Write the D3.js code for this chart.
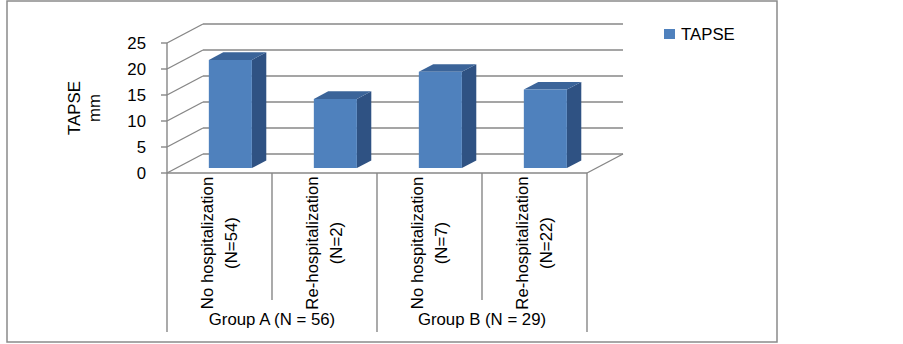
<!DOCTYPE html>
<html>
<head>
<meta charset="utf-8">
<script src="https://cdn.jsdelivr.net/npm/d3@7"></script>
<style>
    body { margin: 0; background: #fff; }
    #chart-area { width: 903px; height: 344px; }
    text { font-family: "Liberation Sans", Arial, sans-serif; fill: #000; }
</style>
</head>
<body>
<div id="chart-area"></div>
<script>
// chart data
let categories = [
    ["No hospitalization", "(N=54)"],
    ["Re-hospitalization", "(N=2)"],
    ["No hospitalization", "(N=7)"],
    ["Re-hospitalization", "(N=22)"]
];
let groups = ["Group A (N = 56)", "Group B (N = 29)"];
let groupOf = [0, 0, 1, 1];
let tapse = [20.8, 13.3, 18.5, 15.1];
let yTicks = [0, 5, 10, 15, 20, 25];
let seriesName = "TAPSE";

class Bar3DVis {
    constructor(parentElement) {
        this.parentElement = parentElement;
        this.initVis();
    }

    initVis() {
        let vis = this;

        vis.width = 903;
        vis.height = 344;
        vis.fontSize = 16.8;
        vis.gridColor = "#878787";

        vis.svg = d3.select("#" + vis.parentElement).append("svg")
            .attr("width", vis.width)
            .attr("height", vis.height);

        // chart area border
        vis.svg.append("rect")
            .attr("x", 7).attr("y", 1)
            .attr("width", 770).attr("height", 341)
            .attr("fill", "none")
            .attr("stroke", "#8a8a8a")
            .attr("stroke-width", 1.5);

        // front plane of the 3d box
        vis.x = d3.scaleBand()
            .domain(d3.range(categories.length))
            .range([167, 587])
            .padding(0);

        vis.y = d3.scaleLinear()
            .domain([0, 25])
            .range([173, 43]);

        // depth offset of the back wall
        vis.depth = {dx: 36, dy: -19};
        vis.P = (xf, v, d) => [xf + d * vis.depth.dx, vis.y(v) + d * vis.depth.dy];

        vis.updateVis();
    }

    updateVis() {
        let vis = this;
        let line = d3.line();
        let x0 = vis.x.range()[0], x1 = vis.x.range()[1];

        let walls = vis.svg.append("g")
            .attr("fill", "none")
            .attr("stroke", vis.gridColor)
            .attr("stroke-width", 1.4);

        // back wall gridlines + side wall diagonals
        yTicks.forEach(t => {
            walls.append("path").attr("d", line([vis.P(x0, t, 1), vis.P(x1, t, 1)]));
            walls.append("path").attr("d", line([vis.P(x0, t, 0), vis.P(x0, t, 1)]));
        });

        // floor front edge and right diagonal
        walls.append("path").attr("d", line([vis.P(x0, 0, 0), vis.P(x1, 0, 0)]));
        walls.append("path").attr("d", line([vis.P(x1, 0, 0), vis.P(x1, 0, 1)]));

        // y axis line and ticks
        walls.append("path").attr("d", line([[x0, vis.y(25)], [x0, vis.y(0)]]));
        yTicks.forEach(t => {
            walls.append("path").attr("d", line([[x0 - 6, vis.y(t)], [x0, vis.y(t)]]));
        });

        vis.svg.append("g").selectAll("text")
            .data(yTicks)
            .enter().append("text")
            .attr("x", 146)
            .attr("y", d => vis.y(d) + 6)
            .attr("text-anchor", "end")
            .style("font-size", vis.fontSize + "px")
            .text(d => d);

        // axis title
        let title = vis.svg.append("text")
            .attr("transform", "translate(86,108) rotate(-90)")
            .attr("text-anchor", "middle")
            .style("font-size", vis.fontSize + "px");
        title.append("tspan").attr("x", 0).attr("y", -6).text("TAPSE");
        title.append("tspan").attr("x", 0).attr("y", 14).text("mm");

        // category divider lines
        let step = vis.x.step();
        let dividers = d3.range(categories.length + 1);
        walls.selectAll(".divider")
            .data(dividers)
            .enter().append("path")
            .attr("class", "divider")
            .attr("d", i => {
                let xx = x0 + i * step;
                let isGroupEdge = i === 0 || i === categories.length || groupOf[i] !== groupOf[i - 1];
                return line([[xx, vis.y(0)], [xx, isGroupEdge ? 332 : 300]]);
            });

        // category labels (rotated, two lines)
        let labels = vis.svg.append("g").selectAll(".cat-label")
            .data(categories)
            .enter().append("text")
            .attr("class", "cat-label")
            .attr("transform", (d, i) => `translate(${vis.x(i) + step / 2},243) rotate(-90)`)
            .attr("text-anchor", "middle")
            .style("font-size", vis.fontSize + "px");
        labels.append("tspan").attr("x", 0).attr("y", -7).text(d => d[0]);
        labels.append("tspan").attr("x", 0).attr("y", 17).text(d => d[1]);

        // group labels
        vis.svg.append("g").selectAll(".group-label")
            .data(groups)
            .enter().append("text")
            .attr("class", "group-label")
            .attr("x", (d, g) => {
                let idx = groupOf.map((k, i) => k === g ? i : -1).filter(i => i >= 0);
                return (vis.x(idx[0]) + vis.x(idx[idx.length - 1]) + step) / 2;
            })
            .attr("y", 325)
            .attr("text-anchor", "middle")
            .style("font-size", vis.fontSize + "px")
            .text(d => d);

        // 3d bars
        let barW = step * 0.41;
        let dFront = 0.26, dBack = 0.66;
        let bars = vis.svg.append("g").selectAll(".bar")
            .data(tapse)
            .enter().append("g")
            .attr("class", "bar");

        let corners = (d, i) => {
            let bx0 = vis.x(i) + (step - barW) / 2 + 1.5;
            let bx1 = bx0 + barW;
            return {
                fl: vis.P(bx0, 0, dFront), fr: vis.P(bx1, 0, dFront),
                tl: vis.P(bx0, d, dFront), tr: vis.P(bx1, d, dFront),
                btl: vis.P(bx0, d, dBack), btr: vis.P(bx1, d, dBack),
                bbr: vis.P(bx1, 0, dBack)
            };
        };

        bars.append("path")
            .attr("fill", "#2f5283")
            .attr("d", (d, i) => {
                let c = corners(d, i);
                return line([c.fr, c.tr, c.btr, c.bbr]) + "Z";
            });

        bars.append("path")
            .attr("fill", "#3b6499")
            .attr("d", (d, i) => {
                let c = corners(d, i);
                return line([c.tl, c.tr, c.btr, c.btl]) + "Z";
            });

        bars.append("path")
            .attr("fill", "#4f81bd")
            .attr("d", (d, i) => {
                let c = corners(d, i);
                return line([c.fl, c.tl, c.tr, c.fr]) + "Z";
            });

        // legend
        let legend = vis.svg.append("g")
            .attr("transform", "translate(664,29)");
        legend.append("rect")
            .attr("width", 11).attr("height", 10)
            .attr("fill", "#4f81bd");
        legend.append("text")
            .attr("x", 17).attr("y", 11)
            .style("font-size", vis.fontSize + "px")
            .text(seriesName);
    }
}

new Bar3DVis("chart-area");
</script>
</body>
</html>
